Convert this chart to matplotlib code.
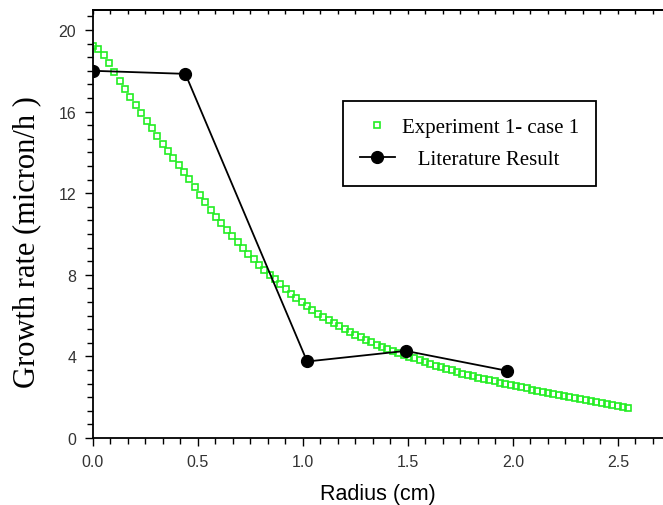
#! /usr/bin/env python3

import matplotlib
matplotlib.use("Agg")
import matplotlib.pyplot as plt
import numpy as np
from matplotlib.ticker import MultipleLocator, AutoMinorLocator

# ---- data ----
radius_exp = np.linspace(0, 2.55, 101)
growth_exp = [19.20, 19.05, 18.78, 18.38, 17.93, 17.52, 17.12, 16.72, 16.32, 15.93,
              15.55, 15.18, 14.78, 14.43, 14.07, 13.72, 13.38, 13.02, 12.68, 12.32,
              11.93, 11.55, 11.17, 10.85, 10.54, 10.21, 9.92, 9.62, 9.31, 9.03,
              8.76, 8.50, 8.25, 8.00, 7.77, 7.54, 7.31, 7.08, 6.87, 6.66,
              6.46, 6.28, 6.10, 5.93, 5.77, 5.62, 5.47, 5.33, 5.19, 5.06,
              4.93, 4.81, 4.69, 4.58, 4.47, 4.37, 4.27, 4.17, 4.08, 3.99,
              3.90, 3.81, 3.72, 3.63, 3.55, 3.47, 3.39, 3.31, 3.24, 3.16,
              3.09, 3.02, 2.96, 2.89, 2.83, 2.77, 2.71, 2.65, 2.59, 2.53,
              2.48, 2.43, 2.37, 2.32, 2.27, 2.22, 2.17, 2.12, 2.07, 2.02,
              1.97, 1.92, 1.87, 1.82, 1.77, 1.72, 1.67, 1.62, 1.57, 1.52,
              1.47]

radius_lit = [0.0, 0.44, 1.02, 1.49, 1.97]
growth_lit = [18.0, 17.85, 3.75, 4.27, 3.3]

label_exp = "Experiment 1- case 1"
label_lit = "   Literature Result"

# ---- plot ----
fig = plt.figure(figsize=(6.63, 5.06), dpi=100)
ax = fig.add_axes([93/663, 1 - 439/506, 1 - 93/663, (439 - 11)/506])

ax.plot(radius_exp, growth_exp, linestyle="none", marker="s", markersize=4.2,
        markerfacecolor="none", markeredgecolor="#22ee22", markeredgewidth=1.2,
        label=label_exp)
ax.plot(radius_lit, growth_lit, color="black", linewidth=1.3, marker="o",
        markersize=8.5, markerfacecolor="black", label=label_lit)

ax.set_xlim(0, 2.715)
ax.set_ylim(0, 20.98)
ax.xaxis.set_major_locator(MultipleLocator(0.5))
ax.xaxis.set_minor_locator(AutoMinorLocator(6))
ax.yaxis.set_major_locator(MultipleLocator(4))
ax.yaxis.set_minor_locator(AutoMinorLocator(6))
ax.xaxis.set_major_formatter(plt.FuncFormatter(lambda v, p: f"{v:.1f}"))

ax.tick_params(axis="x", which="both", direction="out", top=False,
               labelsize=11.5, labelcolor="#333333", pad=5.5)
ax.tick_params(axis="y", which="both", direction="out", right=False,
               labelsize=11.5, labelcolor="#333333", pad=6)
ax.tick_params(which="major", length=6, width=1.0)
ax.tick_params(which="minor", length=4, width=1.0)
for lbl in ax.get_xticklabels() + ax.get_yticklabels():
    lbl.set_family("Liberation Sans")

# small inward ticks along the top edge
top = ax.secondary_xaxis("top")
top.xaxis.set_major_locator(MultipleLocator(0.5))
top.xaxis.set_minor_locator(AutoMinorLocator(6))
top.tick_params(which="both", direction="in", length=3, width=1.0,
                labeltop=False)
top.spines["top"].set_linewidth(1.3)

ax.spines["right"].set_visible(False)
for s in ["left", "bottom", "top"]:
    ax.spines[s].set_linewidth(1.3)

ax.set_xlabel("Radius (cm)", fontsize=15.5, family="Liberation Sans", labelpad=10)
ax.set_ylabel("Growth rate (micron/h )", fontsize=22, family="Liberation Serif")
ax.yaxis.set_label_coords(-0.09, 0.46)

leg = ax.legend(loc="upper left", bbox_to_anchor=(0.4386, 0.787), borderaxespad=0,
                prop={"family": "Liberation Serif", "size": 15},
                fancybox=False, edgecolor="black", framealpha=1,
                borderpad=0.8, labelspacing=0.6, handlelength=1.7, handletextpad=0.33)
leg.get_frame().set_linewidth(1.3)

fig.savefig("out.png", dpi=100)
